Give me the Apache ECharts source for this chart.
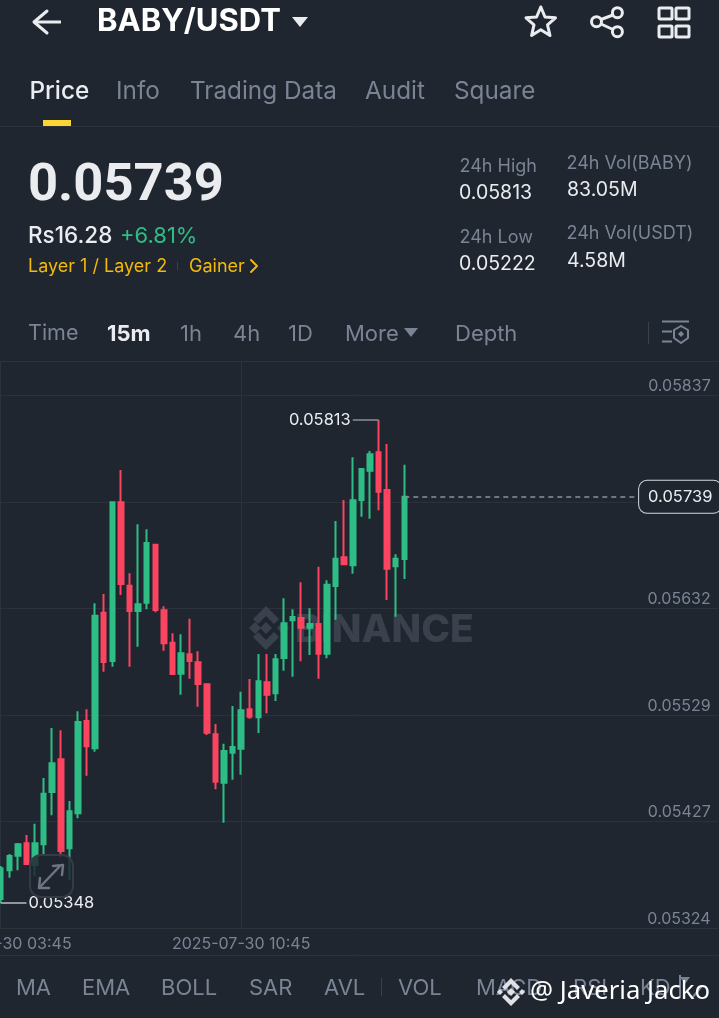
<!DOCTYPE html>
<html><head><meta charset="utf-8">
<style>html,body{margin:0;padding:0;background:#1f2630;overflow:hidden}#c{width:719px;height:1018px}</style>
<script src="https://cdn.jsdelivr.net/npm/echarts@6/dist/echarts.min.js"></script></head>
<body><div id="c"></div>
<script>
const categories = ['2025-07-30 03:45','04:00','04:15','04:30','04:45','05:00','05:15','05:30','05:45','06:00','06:15','06:30','06:45','07:00','07:15','07:30','07:45','08:00','08:15','08:30','08:45','09:00','09:15','09:30','09:45','10:00','10:15','10:30','2025-07-30 10:45','11:00','11:15','11:30','11:45','12:00','12:15','12:30','12:45','13:00','13:15','13:30','13:45','14:00','14:15','14:30','14:45','15:00','15:15','15:30'];
const opens = [.053519,.053795,.053936,.054055,.053846,.054045,.054549,.054864,.054007,.054344,.055232,.05497,.056275,.05581,.057337,.056535,.056291,.056371,.056929,.056298,.055986,.055688,.055874,.055797,.055585,.055104,.054638,.054927,.054966,.055345,.055268,.055605,.055499,.055839,.056201,.056224,.05613,.056166,.05588,.056532,.056808,.056731,.057359,.057641,.057818,.057456,.056721,.056791];
const closes = [.053814,.053933,.054045,.053856,.054055,.054533,.054825,.053981,.054363,.055223,.054989,.056246,.0558,.057337,.056551,.056291,.056356,.056945,.056301,.05598,.055685,.055884,.05581,.055588,.05512,.054648,.054943,.054982,.055335,.055274,.055614,.055485,.055826,.056173,.056233,.05613,.056166,.05588,.056544,.056794,.05674,.057356,.057658,.057799,.057439,.056698,.056794,.05739];
const lows = [.05348,.053724,.053795,.053856,.053743,.053942,.054325,.05392,.053702,.054296,.054706,.054937,.055707,.055755,.056445,.055755,.055947,.056307,.056278,.055909,.055675,.055485,.055639,.05537,.055097,.054575,.054253,.054667,.054715,.055254,.055117,.055306,.055425,.055716,.055659,.055807,.055867,.055639,.055836,.056207,.05674,.05665,.057199,.057179,.05726,.056397,.056236,.056599];
const highs = [.053837,.053952,.054058,.054135,.054244,.054684,.055165,.055143,.054462,.055326,.055345,.056365,.056455,.057337,.057648,.056654,.057125,.057077,.056929,.056336,.056076,.056067,.056217,.055903,.055585,.055203,.055014,.055377,.055514,.055636,.055877,.055877,.055877,.056413,.056307,.056567,.056317,.056717,.056586,.057157,.057359,.05777,.057658,.057831,.05813,.057898,.056837,.057699];
const priceTicks = [0.05324,0.05427,0.05529,0.05632,0.05734,0.05837];
const lastPrice = 0.05739, dayHigh = 0.05813, seenLow = 0.05348;
const tabs = [['Price',29.5,'#eaecef'],['Info',116,'#7a8494'],['Trading Data',190,'#7a8494'],['Audit',365,'#7a8494'],['Square',454,'#7a8494']];
const intervals = [['Time',28,'#7a8494',400],['15m',107,'#eaecef',700],['1h',180,'#7a8494',400],['4h',233,'#7a8494',400],['1D',288,'#7a8494',400],['More',345,'#7a8494',400],['Depth',455,'#7a8494',400]];
const indicators = [['MA',16],['EMA',82],['BOLL',161],['SAR',249],['AVL',324],['VOL',398],['MACD',476],['RSI',573],['KD',640]];
const stats = [['24h High',459.5,167,'#7a8494',18],['0.05813',459,193,'#eaecef',19.5],['24h Vol(BABY)',566.5,164,'#7a8494',18],['83.05M',567,190,'#eaecef',19.5],['24h Low',459.5,238,'#7a8494',18],['0.05222',459,264,'#eaecef',19.5],['24h Vol(USDT)',566.5,234,'#7a8494',18],['4.58M',567,261,'#eaecef',19.5]];

const FONT = 'Inter, Roboto, sans-serif';
const bg = '#1f2630', rule = '#2b323c', grey = '#7a8494';
const T = (s,x,y,size,fill,weight,extra,family) => Object.assign({type:'text',z:50,silent:true,style:{text:s,x,y,fontSize:size,fill,fontWeight:weight||400,fontFamily:family||FONT,verticalAlign:'middle',align:'left'}},extra||{});
const L = (x1,y1,x2,y2,stroke,w,z) => ({type:'line',z:z||50,silent:true,shape:{x1,y1,x2,y2},style:{stroke,lineWidth:w||1}});
const PL = (points,stroke,w,z) => ({type:'polyline',z:z||50,silent:true,shape:{points},style:{stroke,lineWidth:w,fill:'none',lineCap:'round',lineJoin:'round'}});
const PG = (points,fill,z) => ({type:'polygon',z:z||50,silent:true,shape:{points},style:{fill}});
const R = (x,y,width,height,r,stroke,w,fill,z) => ({type:'rect',z:z||50,silent:true,shape:{x,y,width,height,r},style:{stroke,lineWidth:w,fill:fill||'none'}});
const C = (cx,cy,r,stroke,w) => ({type:'circle',z:50,silent:true,shape:{cx,cy,r},style:{stroke,lineWidth:w,fill:'none'}});

const gfx = [
  PL([[47,11],[34,22],[47,33]],'#eaecef',3), L(35,22,61,22,'#eaecef',3),
  T('BABY/USDT',97,22,31,'#ffffff',700),
  PG([[292,17],[308,17],[300,27]],'#eaecef'),
  PL([[540.8,7],[545,17],[555.5,17.8],[547.5,24.8],[550,35.5],[540.8,29.8],[531.6,35.5],[534,24.8],[526,17.8],[536.6,17],[540.8,7]],'#eaecef',3),
  C(617.4,12.7,5,'#eaecef',3),C(596.5,21.7,5,'#eaecef',3),C(617.4,31.7,5,'#eaecef',3),
  L(601,19.5,613,15,'#eaecef',3),L(601,24,613,29.5,'#eaecef',3),
  R(659,8,13,11,1,'#eaecef',3),R(676,8,13,11,1,'#eaecef',3),R(659,26,13,11,1,'#eaecef',3),R(676,26,13,11,1,'#eaecef',3),
  ...tabs.map(t=>T(t[0],t[1],92,24.3,t[2],t[0]==='Price'?500:400)),
  {type:'rect',z:50,silent:true,shape:{x:43,y:120,width:28,height:6},style:{fill:'#fcd535'}},
  L(0,126.5,719,126.5,rule,1),
  T('0.05739',28,187,52.5,'#eaecef',700,null,'Roboto, sans-serif'),
  T('Rs16.28',28,236,22.5,'#eaecef',500),
  T('+6.81%',120,236,22,'#2ebd85',400),
  T('Layer 1 / Layer 2',28,267,18,'#f0b90b',400),
  L(177.5,262,177.5,270,'#3a414c',1),
  T('Gainer',189,267,18,'#f0b90b',400),
  PL([[251,260],[257,266],[251,272]],'#f0b90b',2),
  ...stats.map(s=>T(s[0],s[1],s[2],s[4],s[3],400)),
  ...intervals.map(t=>T(t[0],t[1],334,t[0]==='Time'?21.5:22,t[2],t[3])),
  PG([[404,328],[418,328],[411,337]],grey),
  L(648.5,322,648.5,344,'#3a414c',1),
  L(662,321.5,689,321.5,grey,2),L(662,331.5,672,331.5,grey,2),L(662,341.5,672,341.5,grey,2),
  PL([[681,326],[688,330],[688,338],[681,343],[674,338],[674,330],[681,326]],grey,2),
  PG([[681,331],[684,334],[681,337],[678,334]],grey),
  L(0,361.5,719,361.5,rule,1),
  PG([[266,606],[279,619],[274,624],[266,616],[258,624],[253,619]],'#3a414c',1),
  PG([[266,650],[279,637],[274,632],[266,640],[258,632],[253,637]],'#3a414c',1),
  PG([[249,628],[255,622],[261,628],[255,634]],'#3a414c',1),
  PG([[277,628],[283,622],[289,628],[283,634]],'#3a414c',1),
  PG([[266,622],[272,628],[266,634],[260,628]],'#3a414c',1),
  T('BINANCE',295,630,38.8,'#3a414c',800,{z:1}),
  R(30,855,43,42,11,'#343b46',2,'rgba(31,38,48,0.82)',40),
  L(39,888,60,866,'#6d7582',2.5),PL([[53,866],[63,865],[62,875]],'#6d7582',2.5),PL([[40,878],[39,888],[49,888]],'#6d7582',2.5),
  L(0,955.5,719,955.5,rule,1),
  ...indicators.map(t=>T(t[0],t[1],988,22,grey,400)),
  L(381.5,978,381.5,996,'#3a414c',1),
  PG([[680,977],[690,977],[685,984]],grey),L(680,975,680,998,grey,2),L(692,998,702,986,grey,2),
  PG([[511,978],[520,987],[517,990],[511,984],[505,990],[502,987]],'#dfe1e4',60),
  PG([[511,1006],[520,997],[517,994],[511,1000],[505,994],[502,997]],'#dfe1e4',60),
  PG([[497,992],[500,989],[503,992],[500,995]],'#dfe1e4',60),
  PG([[519,992],[522,989],[525,992],[522,995]],'#dfe1e4',60),
  PG([[511,988],[515,992],[511,996],[507,992]],'#dfe1e4',60),
  T('@ Javeria Jacko',530,992,25.7,'#ffffff',400,{z:60},'"Noto Sans",sans-serif')
];

const padded = categories.concat(new Array(36).fill(''));
const chart = echarts.init(document.getElementById('c'),null,{renderer:'canvas',width:719,height:1018});
chart.setOption({
  animation:false, backgroundColor:bg,
  grid:{left:-3.6,top:361,width:721.3,height:567,containLabel:false,outerBoundsMode:'none'},
  xAxis:{type:'category',data:padded,boundaryGap:true,
    axisLine:{show:true,lineStyle:{color:rule}},axisTick:{show:false},
    splitLine:{show:true,alignWithLabel:true,interval:(i)=>i===0||i===28,lineStyle:{color:rule,width:1}},
    axisLabel:{interval:(i)=>i===0||i===28,color:grey,fontSize:16,fontFamily:FONT,margin:8,hideOverlap:false}},
  yAxis:{type:'value',position:'right',min:0.05324,max:0.058697,scale:true,
    axisLine:{show:false},axisTick:{show:false,customValues:priceTicks},
    splitLine:{show:true,lineStyle:{color:rule,width:1}},
    axisLabel:{customValues:priceTicks,inside:true,margin:7,color:grey,fontSize:16,fontFamily:FONT,verticalAlign:'bottom',formatter:(v)=>v.toFixed(5),lineHeight:17}},
  series:[{type:'candlestick',barWidth:5,z:5,
    data:opens.map((o,i)=>[o,closes[i],lows[i],highs[i]]),
    itemStyle:{color:'#2ebd85',color0:'#fb4560',borderColor:'#2ebd85',borderColor0:'#fb4560',borderWidth:2},
    markLine:{silent:true,symbol:'none',animation:false,z:6,data:[
      [{coord:[44,dayHigh],lineStyle:{color:'#8a919c',type:'solid',width:1.5},label:{show:true,position:'end',formatter:'0.05813',color:'#eaecef',fontSize:16.5,fontFamily:FONT,distance:2}},{coord:[41,dayHigh]}],
      [{coord:[0,seenLow],lineStyle:{color:'#b9bdc4',type:'solid',width:1.5},label:{show:true,position:'end',formatter:'0.05348',color:'#eaecef',fontSize:16.5,fontFamily:FONT,distance:2}},{coord:[3,seenLow]}],
      [{coord:[47,lastPrice],lineStyle:{color:'#8a919c',type:[5,4],width:1.5},label:{show:true,position:'end',distance:3,formatter:'0.05739',color:'#eaecef',fontSize:16.5,fontFamily:FONT,backgroundColor:bg,borderColor:'#d5d8dc',borderWidth:1,borderRadius:8,padding:[8,9,7,9]}},{coord:[74,lastPrice]}]
    ]}}],
  graphic:gfx
});
</script></body></html>
